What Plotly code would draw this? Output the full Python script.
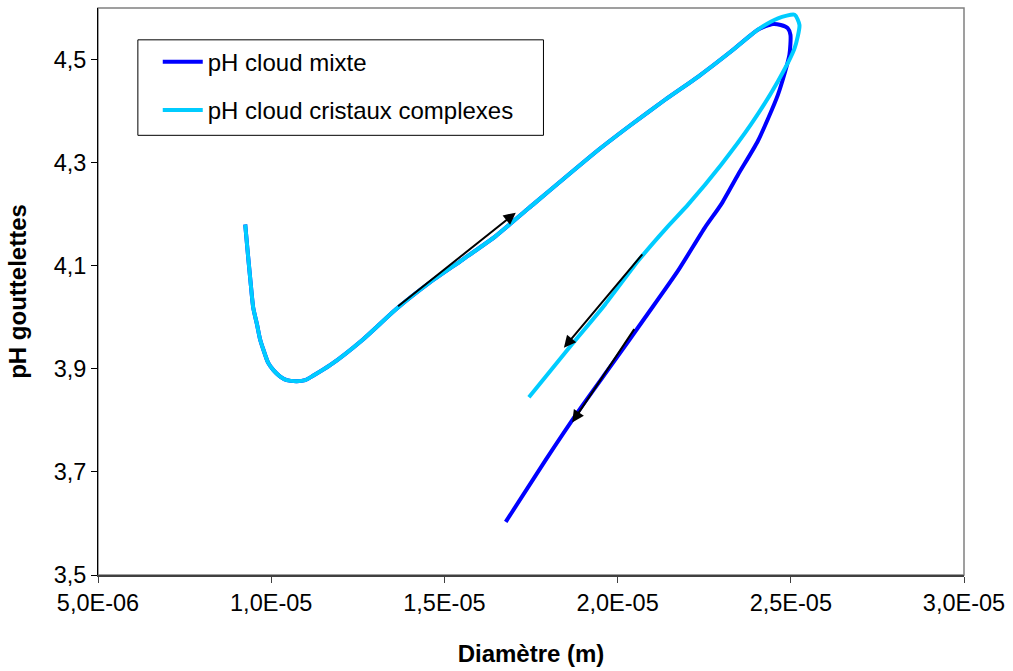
import plotly.graph_objects as go

# Shared part of the trajectory (both series)
shared_d = [0.925e-5, 0.931e-5, 0.940e-5, 0.948e-5, 0.959e-5, 0.968e-5, 0.978e-5, 0.991e-5,
            1.007e-5, 1.026e-5, 1.045e-5, 1.074e-5, 1.098e-5, 1.122e-5, 1.170e-5, 1.265e-5,
            1.361e-5, 1.457e-5, 1.553e-5, 1.649e-5, 1.744e-5, 1.945e-5, 2.040e-5, 2.137e-5,
            2.233e-5, 2.328e-5, 2.405e-5]
shared_ph = [4.180, 4.135, 4.071, 4.019, 3.986, 3.957, 3.936, 3.912,
             3.897, 3.885, 3.878, 3.876, 3.878, 3.887, 3.907, 3.957,
             4.016, 4.067, 4.112, 4.158, 4.212, 4.325, 4.374, 4.422,
             4.467, 4.516, 4.558]

mixte_tail_d = [2.448e-5, 2.471e-5, 2.491e-5, 2.499e-5, 2.496e-5, 2.463e-5, 2.405e-5, 2.348e-5,
                2.299e-5, 2.252e-5, 2.175e-5, 2.080e-5, 1.984e-5, 1.888e-5, 1.792e-5, 1.677e-5]
mixte_tail_ph = [4.569, 4.567, 4.561, 4.548, 4.509, 4.432, 4.342, 4.277,
                 4.219, 4.174, 4.091, 4.000, 3.909, 3.819, 3.723, 3.603]

cristaux_tail_d = [2.463e-5, 2.511e-5, 2.525e-5, 2.511e-5, 2.463e-5, 2.385e-5, 2.299e-5, 2.204e-5,
                   2.142e-5, 2.060e-5, 1.964e-5, 1.869e-5, 1.744e-5]
cristaux_tail_ph = [4.580, 4.587, 4.567, 4.522, 4.458, 4.374, 4.296, 4.219,
                    4.174, 4.110, 4.025, 3.948, 3.845]

# Direction arrows (tail -> tip), data units
arrow_tail_d = [1.362e-5, 2.075e-5, 2.051e-5]
arrow_tail_ph = [4.019, 4.125, 3.980]
arrow_tip_d = [1.706e-5, 1.845e-5, 1.869e-5]
arrow_tip_ph = [4.203, 3.941, 3.796]

x_tickvals = [5e-6, 1e-5, 1.5e-5, 2e-5, 2.5e-5, 3e-5]
x_ticktext = ["5,0E-06", "1,0E-05", "1,5E-05", "2,0E-05", "2,5E-05", "3,0E-05"]
y_tickvals = [3.5, 3.7, 3.9, 4.1, 4.3, 4.5]
y_ticktext = ["3,5", "3,7", "3,9", "4,1", "4,3", "4,5"]

FONT = "Liberation Sans, Arial, sans-serif"

fig = go.Figure()
fig.add_trace(go.Scatter(x=shared_d + mixte_tail_d, y=shared_ph + mixte_tail_ph,
                         mode="lines", name="pH cloud mixte", legendgroup="a",
                         line=dict(color="#0000FF", width=4, shape="spline", smoothing=0.6)))
fig.add_trace(go.Scatter(x=shared_d + cristaux_tail_d, y=shared_ph + cristaux_tail_ph,
                         mode="lines", name="pH cloud cristaux complexes", legendgroup="b",
                         line=dict(color="#00CCFF", width=4, shape="spline", smoothing=0.6)))

for tx, ty, hx, hy in zip(arrow_tail_d, arrow_tail_ph, arrow_tip_d, arrow_tip_ph):
    fig.add_annotation(x=hx, y=hy, ax=tx, ay=ty, xref="x", yref="y", axref="x", ayref="y",
                       showarrow=True, arrowhead=2, arrowsize=1.2, arrowwidth=2,
                       arrowcolor="black", text="", standoff=0)

# plot frame (grey top/right)
fig.add_shape(type="rect", xref="paper", yref="paper", x0=0, y0=0, x1=1, y1=1,
              line=dict(color="#808080", width=1.5), layer="below")
# legend box
fig.add_shape(type="rect", xref="paper", yref="paper",
              x0=40 / 869, x1=447 / 869, y0=442 / 570, y1=538 / 570,
              line=dict(color="black", width=1), fillcolor="white", layer="below")

fig.update_layout(
    width=1013, height=671,
    margin=dict(l=98, r=46, t=8, b=93),
    paper_bgcolor="white", plot_bgcolor="white",
    font=dict(family=FONT, size=24, color="black"),
    showlegend=True,
    legend=dict(x=0.069, y=0.944, xanchor="left", yanchor="top",
                bgcolor="rgba(0,0,0,0)", borderwidth=0,
                font=dict(size=24), tracegroupgap=14,
                itemwidth=40),
    xaxis=dict(range=[5e-6, 3e-5], tickvals=x_tickvals, ticktext=x_ticktext,
               tickfont=dict(size=23.5),
               showgrid=False, zeroline=False, showline=True, linecolor="#404040", linewidth=2,
               ticks="outside", ticklen=6, tickcolor="#404040",
               title=dict(text="<b>Diamètre (m)</b>", font=dict(size=24), standoff=30)),
    yaxis=dict(range=[3.5, 4.6], tickvals=y_tickvals, ticktext=y_ticktext,
               tickfont=dict(size=23.5),
               showgrid=False, zeroline=False, showline=True, linecolor="black", linewidth=1,
               ticks="outside", ticklen=6, tickcolor="black",
               title=dict(text="<b>pH gouttelettes</b>", font=dict(size=24), standoff=20)),
)

fig.write_html("out.html", config={"displayModeBar": False},
               post_script="document.body.style.margin='0';")
